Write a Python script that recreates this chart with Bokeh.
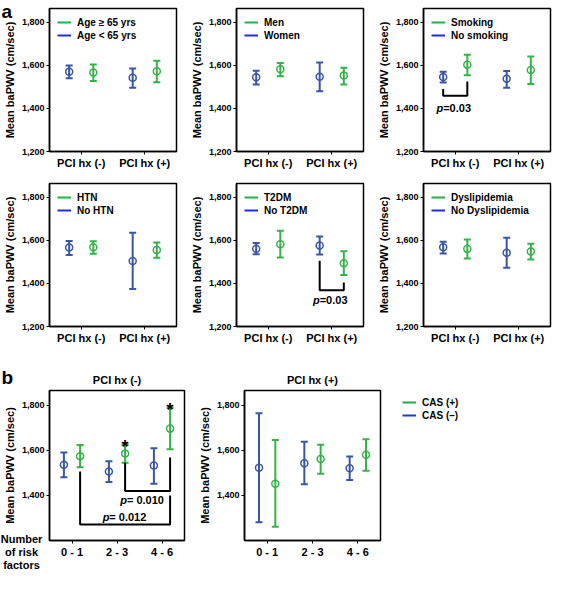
import numpy as np
from bokeh.plotting import figure
from bokeh.models import (ColumnDataSource, Whisker, TeeHead, FixedTicker, NumeralTickFormatter,
                          Legend, LegendItem, Range1d, GridBox)
from bokeh.layouts import column, row
from bokeh.core.properties import value
from bokeh.embed import file_html
from bokeh.resources import INLINE

FONT = "Liberation Sans"
BLUE = "#3a56a8"
GREEN = "#35b34a"
LEG_BLUE = "#1f2ee6"
LEG_GREEN = "#22b04b"
YMIN, YMAX = 1200, 1865

# ---------------- data: panel a ----------------
pci_groups = ["PCI hx (-)", "PCI hx (+)"]
a_green_labels = ["Age \u2265 65 yrs", "Men", "Smoking", "HTN", "T2DM", "Dyslipidemia"]
a_blue_labels = ["Age < 65 yrs", "Women", "No smoking", "No HTN", "No T2DM", "No Dyslipidemia"]

age_blue_mean = [1571, 1543]; age_blue_lo = [1541, 1496]; age_blue_hi = [1600, 1586]
age_green_mean = [1567, 1573]; age_green_lo = [1528, 1522]; age_green_hi = [1605, 1622]

sex_blue_mean = [1545, 1548]; sex_blue_lo = [1512, 1480]; sex_blue_hi = [1576, 1614]
sex_green_mean = [1583, 1554]; sex_green_lo = [1550, 1512]; sex_green_hi = [1612, 1589]

smk_blue_mean = [1547, 1538]; smk_blue_lo = [1521, 1496]; smk_blue_hi = [1571, 1574]
smk_green_mean = [1603, 1579]; smk_green_lo = [1555, 1514]; smk_green_hi = [1650, 1642]

htn_blue_mean = [1567, 1505]; htn_blue_lo = [1532, 1374]; htn_blue_hi = [1598, 1636]
htn_green_mean = [1568, 1556]; htn_green_lo = [1538, 1520]; htn_green_hi = [1597, 1591]

dm_blue_mean = [1562, 1577]; dm_blue_lo = [1536, 1535]; dm_blue_hi = [1588, 1618]
dm_green_mean = [1583, 1494]; dm_green_lo = [1521, 1439]; dm_green_hi = [1645, 1550]

dl_blue_mean = [1569, 1543]; dl_blue_lo = [1540, 1473]; dl_blue_hi = [1594, 1613]
dl_green_mean = [1561, 1549]; dl_green_lo = [1516, 1512]; dl_green_hi = [1604, 1585]

# significance annotations, panel a
smk_bracket_y = [1491, 1459, 1459, 1525]
smk_p_text = "=0.03"; smk_p_y = 1404
dm_bracket_y = [1506, 1368, 1368, 1405]
dm_p_text = "=0.03"; dm_p_y = 1323

# ---------------- data: panel b ----------------
risk_groups = ["0 - 1", "2 - 3", "4 - 6"]
b_titles = ["PCI hx (-)", "PCI hx (+)"]
b_legend = ["CAS (+)", "CAS (\u2013)"]

bneg_blue_mean = [1536, 1506, 1532]; bneg_blue_lo = [1480, 1459, 1452]; bneg_blue_hi = [1590, 1551, 1609]
bneg_green_mean = [1574, 1586, 1696]; bneg_green_lo = [1525, 1545, 1604]; bneg_green_hi = [1623, 1623, 1788]

bpos_blue_mean = [1523, 1543, 1520]; bpos_blue_lo = [1281, 1449, 1468]; bpos_blue_hi = [1764, 1638, 1572]
bpos_green_mean = [1452, 1561, 1580]; bpos_green_lo = [1261, 1496, 1509]; bpos_green_hi = [1645, 1625, 1649]

b_bracket_010_y = [1545, 1420, 1420, 1568]
b_bracket_012_y = [1506, 1271, 1271, 1400]
b_p010_text = " = 0.010"; b_p010_y = 1380
b_p012_text = " = 0.012"; b_p012_y = 1303; b_p012_x = 1.33
star_idx = [1, 2]

# panel letters and the x-axis caption of panel b (text, layout position in px)
side_texts = ["a", "b", "Number", "of risk", "factors"]
side_x = [1, 1, 21, 21, 21]
side_y = [11, 377, 538, 551, 564]
side_size = ["19px", "19px", "11px", "11px", "11px"]
side_align = ["left", "left", "center", "center", "center"]
side_base = ["alphabetic", "alphabetic", "middle", "middle", "middle"]


def make_panel(fw, fh, mbl, mbr, mbt, mbb, cats, bm, blo, bhi, gm, glo, ghi, dodge, yticks, title=None):
    n = len(cats)
    p = figure(frame_width=fw, frame_height=fh, min_border_left=mbl, min_border_right=mbr,
               min_border_top=mbt, min_border_bottom=mbb,
               x_range=Range1d(0, n), y_range=Range1d(YMIN, YMAX),
               output_backend="svg", toolbar_location=None)
    centers = np.arange(n) + 0.5
    bx = centers - dodge
    gx = centers + dodge
    for xs, m, lo, hi, col in [(bx, bm, blo, bhi, BLUE), (gx, gm, glo, ghi, GREEN)]:
        src = ColumnDataSource(dict(x=list(xs), m=m, lo=lo, hi=hi))
        w = Whisker(source=src, base="x", lower="lo", upper="hi", line_color=col, line_width=2,
                    lower_head=TeeHead(size=7, line_color=col, line_width=2),
                    upper_head=TeeHead(size=7, line_color=col, line_width=2))
        p.add_layout(w)
        p.scatter("x", "m", source=src, size=7, marker="circle", fill_color=None,
                  line_color=col, line_width=1.5)
    p.xgrid.visible = False
    p.ygrid.visible = False
    p.outline_line_color = "black"
    p.outline_line_width = 1.5
    p.outline_line_alpha = 1
    p.xaxis.ticker = FixedTicker(ticks=[float(c) for c in centers])
    p.xaxis.major_label_overrides = {float(c): cats[i] for i, c in enumerate(centers)}
    p.yaxis.ticker = FixedTicker(ticks=yticks)
    p.yaxis.formatter = NumeralTickFormatter(format="0,0")
    p.yaxis.axis_label = "Mean baPWV (cm/sec)"
    for ax in p.axis:
        ax.axis_line_color = "black"
        ax.axis_line_width = 1.5
        ax.major_tick_out = 3
        ax.major_tick_in = 0
        ax.minor_tick_line_color = None
        ax.major_tick_line_color = "black"
        ax.major_label_text_font = FONT
        ax.major_label_text_font_style = "bold"
        ax.major_label_text_color = "black"
        ax.axis_label_text_font = FONT
        ax.axis_label_text_font_style = "bold"
        ax.axis_label_text_font_size = "11px"
        ax.axis_label_text_color = "black"
        ax.axis_label_standoff = 3
        ax.major_label_standoff = 2
    p.xaxis.major_label_text_font_size = "11px"
    p.yaxis.major_label_text_font_size = "9px"
    if title:
        p.title.text = title
        p.title.align = "center"
        p.title.text_font = FONT
        p.title.text_font_style = "bold"
        p.title.text_font_size = "11px"
        p.title.text_color = "black"
    return p, bx, gx


def add_legend(p, glabel, blabel, gcol, bcol, margin=8):
    # hidden carrier lines (outside the visible x range) that give the legend its glyphs
    rg = p.line(x=[-10, -9], y=[0, 0], line_color=gcol, line_width=2)
    rb = p.line(x=[-10, -9], y=[0, 0], line_color=bcol, line_width=2)
    leg = Legend(items=[LegendItem(label=glabel, renderers=[rg]),
                        LegendItem(label=blabel, renderers=[rb])],
                 location="top_left", margin=margin, padding=0, spacing=1,
                 border_line_color=None, background_fill_alpha=0,
                 glyph_width=14, glyph_height=12, label_height=12, label_standoff=6,
                 label_text_font=FONT, label_text_font_style="bold",
                 label_text_font_size="10px", label_text_color="black")
    p.add_layout(leg)


def add_bracket(p, xs, ys):
    p.line(x=xs, y=ys, line_color="black", line_width=2)


def add_p(p, x, y, rest):
    src = ColumnDataSource(dict(x=[x], y=[y], p=["p"], t=[rest]))
    p.text("x", "y", text="p", source=src, text_font=value(FONT), text_font_style="bold italic",
           text_font_size="11px", text_align="right", text_baseline="middle", text_color="black")
    p.text("x", "y", text="t", source=src, text_font=value(FONT), text_font_style="bold",
           text_font_size="11px", text_align="left", text_baseline="middle", text_color="black")


FH = 143
DA = 0.19
ATICKS = [1200, 1400, 1600, 1800]

p1, _, _ = make_panel(127, FH, 44, 2, 8, 24, pci_groups, age_blue_mean, age_blue_lo, age_blue_hi,
                      age_green_mean, age_green_lo, age_green_hi, DA, ATICKS)
add_legend(p1, a_green_labels[0], a_blue_labels[0], LEG_GREEN, LEG_BLUE)

p2, _, _ = make_panel(127, FH, 58, 2, 8, 24, pci_groups, sex_blue_mean, sex_blue_lo, sex_blue_hi,
                      sex_green_mean, sex_green_lo, sex_green_hi, DA, ATICKS)
add_legend(p2, a_green_labels[1], a_blue_labels[1], LEG_GREEN, LEG_BLUE)

p3, bx3, gx3 = make_panel(127, FH, 58, 3, 8, 24, pci_groups, smk_blue_mean, smk_blue_lo, smk_blue_hi,
                          smk_green_mean, smk_green_lo, smk_green_hi, DA, ATICKS)
add_legend(p3, a_green_labels[2], a_blue_labels[2], LEG_GREEN, LEG_BLUE)
add_bracket(p3, [bx3[0], bx3[0], gx3[0], gx3[0]], smk_bracket_y)
add_p(p3, bx3[0], smk_p_y, smk_p_text)

p4, _, _ = make_panel(127, FH, 44, 2, 8, 24, pci_groups, htn_blue_mean, htn_blue_lo, htn_blue_hi,
                      htn_green_mean, htn_green_lo, htn_green_hi, DA, ATICKS)
add_legend(p4, a_green_labels[3], a_blue_labels[3], LEG_GREEN, LEG_BLUE)

p5, bx5, gx5 = make_panel(127, FH, 58, 2, 8, 24, pci_groups, dm_blue_mean, dm_blue_lo, dm_blue_hi,
                          dm_green_mean, dm_green_lo, dm_green_hi, DA, ATICKS)
add_legend(p5, a_green_labels[4], a_blue_labels[4], LEG_GREEN, LEG_BLUE)
add_bracket(p5, [bx5[1], bx5[1], gx5[1], gx5[1]], dm_bracket_y)
add_p(p5, bx5[1], dm_p_y, dm_p_text)

p6, _, _ = make_panel(127, FH, 58, 3, 8, 24, pci_groups, dl_blue_mean, dl_blue_lo, dl_blue_hi,
                      dl_green_mean, dl_green_lo, dl_green_hi, DA, ATICKS)
add_legend(p6, a_green_labels[5], a_blue_labels[5], LEG_GREEN, LEG_BLUE)

DB = 0.18
BTICKS = [1400, 1600, 1800]
BFH = 150
q1, qbx, qgx = make_panel(135, BFH, 46, 2, 40, 34, risk_groups, bneg_blue_mean, bneg_blue_lo, bneg_blue_hi,
                          bneg_green_mean, bneg_green_lo, bneg_green_hi, DB, BTICKS, title=b_titles[0])
add_bracket(q1, [qgx[1], qgx[1], qgx[2], qgx[2]], b_bracket_010_y)
add_bracket(q1, [qgx[0], qgx[0], qgx[2], qgx[2]], b_bracket_012_y)
add_p(q1, qgx[1] + 0.04, b_p010_y, b_p010_text)
add_p(q1, b_p012_x, b_p012_y, b_p012_text)
star_src = ColumnDataSource(dict(x=[qgx[i] for i in star_idx], y=[bneg_green_hi[i] for i in star_idx],
                                 t=["*"] * len(star_idx)))
q1.text("x", "y", text="t", source=star_src, text_font=value(FONT), text_font_style="bold",
        text_font_size="18px", text_align="center", text_baseline="alphabetic", y_offset=2,
        text_color="black")

q2, _, _ = make_panel(136, BFH, 58, 2, 40, 34, risk_groups, bpos_blue_mean, bpos_blue_lo, bpos_blue_hi,
                      bpos_green_mean, bpos_green_lo, bpos_green_hi, DB, BTICKS, title=b_titles[1])

lg = figure(width=172, height=224, x_range=Range1d(0, 1), y_range=Range1d(0, 1),
            min_border_left=14, min_border_top=37, min_border_right=0, min_border_bottom=0,
            output_backend="svg", toolbar_location=None)
lg.axis.visible = False
lg.xgrid.visible = False
lg.ygrid.visible = False
lg.outline_line_color = None
add_legend(lg, b_legend[0], b_legend[1], "#1ea84a", "#1c3cc8", margin=6)

main = column(row(p1, p2, p3), row(p4, p5, p6), row(q1, q2, lg))

# transparent overlay carrying the texts that sit outside the plot frames
TOTAL_W, TOTAL_H = 551, 574
ov = figure(width=TOTAL_W, height=TOTAL_H, x_range=Range1d(0, TOTAL_W), y_range=Range1d(TOTAL_H, 0),
            min_border=0, min_border_left=0, min_border_right=0, min_border_top=0, min_border_bottom=0,
            output_backend="svg", toolbar_location=None,
            background_fill_color=None, border_fill_color=None)
ov.axis.visible = False
ov.xgrid.visible = False
ov.ygrid.visible = False
ov.outline_line_color = None
for i in range(len(side_texts)):
    s = ColumnDataSource(dict(x=[side_x[i]], y=[side_y[i]], t=[side_texts[i]]))
    ov.text("x", "y", text="t", source=s, text_font=value(FONT), text_font_style="bold",
            text_font_size=side_size[i], text_align=side_align[i], text_baseline=side_base[i],
            text_color="black")

layout = GridBox(children=[(main, 0, 0), (ov, 0, 0)])

with open("out.html", "w") as f:
    f.write(file_html(layout, INLINE))
